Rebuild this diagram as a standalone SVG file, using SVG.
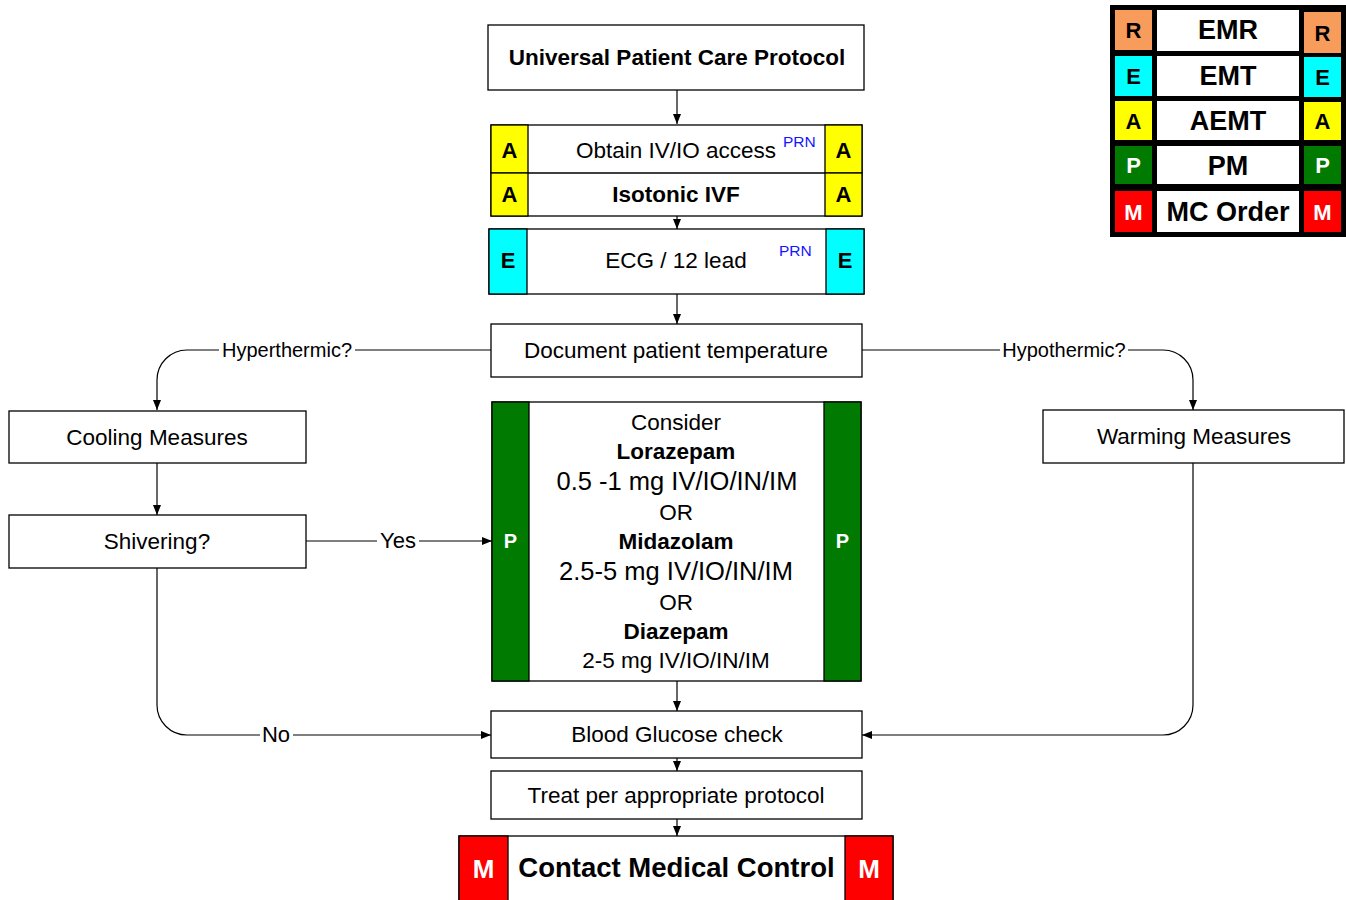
<svg xmlns="http://www.w3.org/2000/svg" width="1346" height="900" viewBox="0 0 1346 900">
<style>
text{font-family:"Liberation Sans",Arial,sans-serif;fill:#000;text-anchor:middle}
.box{fill:#fff;stroke:#000;stroke-width:1.3}
.t{font-size:22.5px}
.b{font-weight:bold}
.lbl{font-size:20px}
.lbl2{font-size:22px}
.big{font-size:25.5px}
.prn{font-size:15.5px;fill:#1515ff;text-anchor:start}
.tag{font-size:22px;font-weight:bold}
.w{fill:#fff}
.yel{fill:#ffff00;stroke:#000;stroke-width:1.3}
.cy{fill:#00ffff;stroke:#000;stroke-width:1.3}
.gr{fill:#007a00;stroke:#000;stroke-width:1.3}
.rd{fill:#ff0000;stroke:#000;stroke-width:1.3}
.or{fill:#f79c5a}
.conn{fill:none;stroke:#000;stroke-width:1.2}
.leg{font-size:27px;font-weight:bold}
.lt{font-size:22px;font-weight:bold}
</style>
<defs>
<marker id="ah" viewBox="0 0 10 8" refX="10" refY="4" markerWidth="10" markerHeight="8" markerUnits="userSpaceOnUse" orient="auto">
<path d="M0,0 L10,4 L0,8 z" fill="#000"/>
</marker>
</defs>
<rect width="1346" height="900" fill="#fff"/>

<g id="connectors">
<path class="conn" d="M677,90 V124" marker-end="url(#ah)"/>
<path class="conn" d="M677,216 V229" marker-end="url(#ah)"/>
<path class="conn" d="M677,294 V324" marker-end="url(#ah)"/>
<path class="conn" d="M491,350 H187 A30,30 0 0 0 157,380 V410" marker-end="url(#ah)"/>
<path class="conn" d="M862,350 H1163 A30,30 0 0 1 1193,380 V410" marker-end="url(#ah)"/>
<path class="conn" d="M157,463 V515" marker-end="url(#ah)"/>
<path class="conn" d="M306,541 H492" marker-end="url(#ah)"/>
<path class="conn" d="M157,568 V705 A30,30 0 0 0 187,735 H491" marker-end="url(#ah)"/>
<path class="conn" d="M1193,463 V705 A30,30 0 0 1 1163,735 H862" marker-end="url(#ah)"/>
<path class="conn" d="M677,681 V711" marker-end="url(#ah)"/>
<path class="conn" d="M677,758 V771" marker-end="url(#ah)"/>
<path class="conn" d="M677,819 V836" marker-end="url(#ah)"/>
<rect x="219" y="338" width="136" height="24" fill="#fff"/>
<text class="lbl" x="287" y="357">Hyperthermic?</text>
<rect x="1000" y="338" width="128" height="24" fill="#fff"/>
<text class="lbl" x="1064" y="357">Hypothermic?</text>
<rect x="377" y="529" width="42" height="24" fill="#fff"/>
<text class="lbl2" x="398" y="548">Yes</text>
<rect x="260" y="723" width="33" height="24" fill="#fff"/>
<text class="lbl2" x="276" y="742">No</text>
</g>

<g id="universal">
<rect class="box" x="488" y="25" width="376" height="65"/>
<text class="t b" x="677" y="65">Universal Patient Care Protocol</text>
</g>

<g id="iv-access">
<rect class="box" x="491" y="125" width="371" height="91"/>
<line x1="491" y1="173" x2="862" y2="173" stroke="#000" stroke-width="1.3"/>
<rect class="yel" x="491" y="125" width="37" height="48"/>
<rect class="yel" x="491" y="173" width="37" height="43"/>
<rect class="yel" x="825" y="125" width="37" height="48"/>
<rect class="yel" x="825" y="173" width="37" height="43"/>
<text class="tag" x="509.5" y="158">A</text>
<text class="tag" x="509.5" y="202">A</text>
<text class="tag" x="843.5" y="158">A</text>
<text class="tag" x="843.5" y="202">A</text>
<text class="t" x="676" y="158">Obtain IV/IO access</text>
<text class="prn" x="783" y="147">PRN</text>
<text class="t b" x="676" y="202">Isotonic IVF</text>
</g>

<g id="ecg">
<rect class="box" x="489" y="229" width="375" height="65"/>
<rect class="cy" x="489" y="229" width="38" height="65"/>
<rect class="cy" x="826" y="229" width="38" height="65"/>
<text class="tag" x="508" y="268">E</text>
<text class="tag" x="845" y="268">E</text>
<text class="t" x="676" y="268">ECG / 12 lead</text>
<text class="prn" x="779" y="256">PRN</text>
</g>

<g id="document-temp">
<rect class="box" x="491" y="324" width="371" height="53"/>
<text class="t" x="676" y="358">Document patient temperature</text>
</g>

<g id="cooling">
<rect class="box" x="9" y="411" width="297" height="52"/>
<text class="t" x="157" y="445">Cooling Measures</text>
</g>

<g id="shivering">
<rect class="box" x="9" y="515" width="297" height="53"/>
<text class="t" x="157" y="549">Shivering?</text>
</g>

<g id="warming">
<rect class="box" x="1043" y="410" width="301" height="53"/>
<text class="t" x="1194" y="444">Warming Measures</text>
</g>

<g id="benzo">
<rect class="box" x="492" y="402" width="369" height="279"/>
<rect class="gr" x="492" y="402" width="37" height="279"/>
<rect class="gr" x="824" y="402" width="37" height="279"/>
<text class="tag w" x="510.5" y="548" style="font-size:20px">P</text>
<text class="tag w" x="842.5" y="548" style="font-size:20px">P</text>
<text class="t" x="676" y="430">Consider</text>
<text class="t b" x="676" y="459">Lorazepam</text>
<text class="big" x="677" y="490">0.5 -1 mg IV/IO/IN/IM</text>
<text class="t" x="676" y="520">OR</text>
<text class="t b" x="676" y="549">Midazolam</text>
<text class="big" x="676" y="580">2.5-5 mg IV/IO/IN/IM</text>
<text class="t" x="676" y="610">OR</text>
<text class="t b" x="676" y="639">Diazepam</text>
<text class="t" x="676" y="668">2-5 mg IV/IO/IN/IM</text>
</g>

<g id="glucose">
<rect class="box" x="491" y="711" width="371" height="47"/>
<text class="t" x="677" y="742">Blood Glucose check</text>
</g>

<g id="treat">
<rect class="box" x="491" y="771" width="371" height="48"/>
<text class="t" x="676" y="803">Treat per appropriate protocol</text>
</g>

<g id="contact">
<rect class="box" x="459" y="836" width="434" height="70"/>
<rect class="rd" x="459" y="836" width="49" height="70"/>
<rect class="rd" x="845" y="836" width="48" height="70"/>
<text class="tag w" x="483.5" y="878" style="font-size:26px">M</text>
<text class="tag w" x="869" y="878" style="font-size:26px">M</text>
<text class="b" x="676.5" y="877" style="font-size:27.5px">Contact Medical Control</text>
</g>

<g id="legend">
<rect x="1110" y="5" width="236" height="232" fill="#000"/>
<rect class="or" x="1115" y="10" width="37" height="40"/>
<rect class="w" x="1157" y="10" width="142" height="41"/>
<rect class="or" x="1304" y="12" width="37" height="41"/>
<text class="lt" x="1133.5" y="38">R</text>
<text class="leg" x="1228" y="39">EMR</text>
<text class="lt" x="1322.5" y="40.5">R</text>

<rect fill="#00ffff" x="1115" y="56" width="37" height="40"/>
<rect class="w" x="1157" y="56" width="142" height="40"/>
<rect fill="#00ffff" x="1304" y="57" width="37" height="40"/>
<text class="lt" x="1133.5" y="83.5">E</text>
<text class="leg" x="1228" y="85">EMT</text>
<text class="lt" x="1322.5" y="84.5">E</text>

<rect fill="#ffff00" x="1115" y="101" width="37" height="39"/>
<rect class="w" x="1157" y="101" width="142" height="39"/>
<rect fill="#ffff00" x="1304" y="102" width="37" height="38"/>
<text class="lt" x="1133.5" y="128.5">A</text>
<text class="leg" x="1228" y="130">AEMT</text>
<text class="lt" x="1322.5" y="128.5">A</text>

<rect fill="#007a00" x="1115" y="146" width="37" height="38"/>
<rect class="w" x="1157" y="146" width="142" height="38"/>
<rect fill="#007a00" x="1304" y="146" width="37" height="38"/>
<text class="lt w" x="1133.5" y="173">P</text>
<text class="leg" x="1228" y="175">PM</text>
<text class="lt w" x="1322.5" y="173">P</text>

<rect fill="#ff0000" x="1115" y="191" width="37" height="41"/>
<rect class="w" x="1157" y="191" width="142" height="41"/>
<rect fill="#ff0000" x="1304" y="191" width="37" height="41"/>
<text class="lt w" x="1133.5" y="219.5">M</text>
<text class="leg" x="1228" y="221">MC Order</text>
<text class="lt w" x="1322.5" y="219.5">M</text>
</g>
</svg>
